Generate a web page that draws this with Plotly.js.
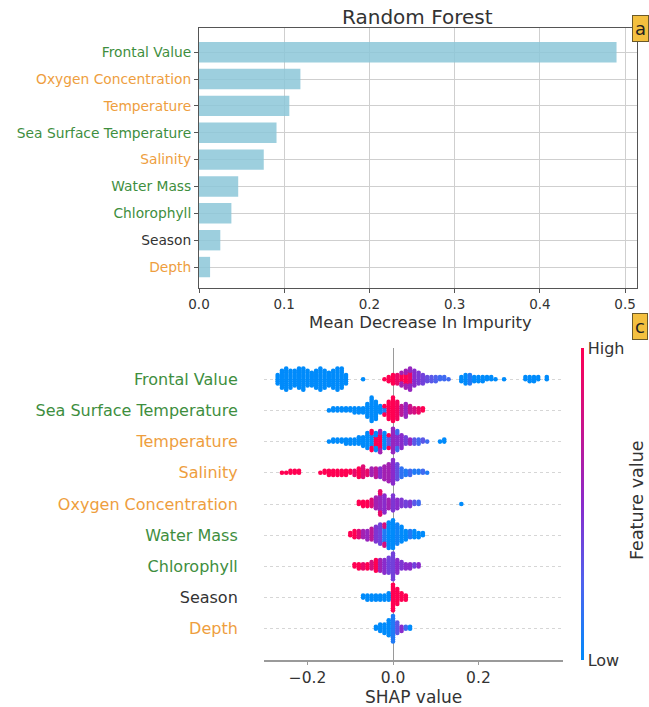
<!DOCTYPE html>
<html>
<head>
<meta charset="utf-8">
<script src="https://cdn.plot.ly/plotly-3.0.1.min.js"></script>
<style>html,body{margin:0;padding:0;background:#fff;}#chart{width:649px;height:707px;}</style>
</head>
<body>
<div id="chart"></div>
<script>
// ---------- Panel a: Random Forest impurity importance ----------
const rfFeatures = ["Frontal Value","Oxygen Concentration","Temperature","Sea Surface Temperature","Salinity","Water Mass","Chlorophyll","Season","Depth"];
const rfImportance = [0.490, 0.119, 0.106, 0.091, 0.076, 0.046, 0.038, 0.025, 0.013];
const rfTicks = [0.0, 0.1, 0.2, 0.3, 0.4, 0.5];

// label colour groups
const greenLabels = ["Frontal Value","Sea Surface Temperature","Water Mass","Chlorophyll"];
const orangeLabels = ["Oxygen Concentration","Temperature","Salinity","Depth"];

// ---------- Panel c: SHAP beeswarm (binned SHAP value, point count, feature value 0=low..1=high) ----------
const shapFeatures = ["Frontal Value","Sea Surface Temperature","Temperature","Salinity","Oxygen Concentration","Water Mass","Chlorophyll","Season","Depth"];
const shapTicks = [-0.2, 0.0, 0.2];

const shapFrontal = [[-0.27,5,0],[-0.26,9,0],[-0.25,11,0],[-0.24,9,0],[-0.23,8,0],[-0.22,10,0],[-0.21,11,0],[-0.20,8,0],[-0.19,7,0],[-0.18,9,0],[-0.17,11,0],[-0.16,9,0],[-0.15,7,0],[-0.14,9,0],[-0.13,11,0],[-0.12,10,0],[-0.11,5,0],
  [-0.07,1,0],
  [-0.02,1,1],[-0.01,3,1],[0.00,5,1],[0.01,5,0.9],[0.02,4,1],[0.02,3,0.6],[0.03,5,1],[0.03,4,0.6],[0.04,6,0.9],[0.04,5,0.55],[0.05,8,0.5],[0.06,6,0.45],[0.07,5,0.4],[0.08,3,0.35],[0.09,3,0.3],[0.10,3,0.25],[0.11,2,0.2],[0.12,2,0.2],[0.13,1,0.2],
  [0.16,3,0],[0.17,5,0],[0.18,5,0.1],[0.19,3,0],[0.20,3,0],[0.21,3,0],[0.22,2,0],[0.23,2,0],[0.24,1,0],[0.26,1,0],
  [0.31,2,0],[0.32,3,0],[0.33,3,0],[0.34,2,0],[0.36,2,0]];
const shapSST = [[-0.15,1,0],[-0.14,2,0],[-0.13,2,0],[-0.12,2,0],[-0.11,2,0],[-0.10,2,0],[-0.09,3,0],[-0.08,3,0],[-0.07,3,0],[-0.06,7,0],[-0.05,12,0],[-0.04,9,0],[-0.03,4,0],[-0.02,3,0.1],[-0.02,2,1],[-0.01,9,1],[0.00,12,1],[0.01,9,0.95],[0.02,5,0.7],[0.03,7,0.55],[0.04,4,0.75],[0.05,3,0.8],[0.06,3,0.9],[0.07,2,1]];
const shapTemperature = [[-0.15,1,0],[-0.14,2,0],[-0.13,2,0],[-0.12,2,0],[-0.11,3,0],[-0.10,3,0],[-0.09,3,0],[-0.08,4,0],[-0.07,5,0],[-0.06,8,0],[-0.05,6,0],[-0.05,4,1],[-0.04,5,1],[-0.04,4,0],[-0.03,7,1],[-0.03,4,0.6],[-0.02,8,0],[-0.01,5,0.3],[-0.01,2,1],[0.00,12,0.55],[0.01,6,0.5],[0.01,4,0.2],[0.02,7,0.5],[0.03,4,0.4],[0.04,3,0.55],[0.05,3,0.3],[0.06,3,0.2],[0.07,2,0.3],[0.08,1,0.2],[0.11,1,0],[0.12,2,0]];
const shapSalinity = [[-0.26,1,1],[-0.25,1,1],[-0.24,2,1],[-0.23,2,1],[-0.22,2,1],[-0.17,1,1],[-0.16,2,1],[-0.15,3,1],[-0.14,3,1],[-0.13,3,1],[-0.12,3,1],[-0.11,3,1],[-0.10,2,1],[-0.09,3,0.9],[-0.08,5,1],[-0.07,6,0.85],[-0.06,3,0.9],[-0.05,4,0.6],[-0.04,5,0.7],[-0.03,5,0.5],[-0.02,7,0.6],[-0.01,9,0.6],[0.00,12,0.5],[0.01,8,0.35],[0.02,5,0.15],[0.03,3,0.1],[0.04,3,0.2],[0.05,2,0.1],[0.06,2,0.1],[0.07,2,0.2],[0.08,1,0.1]];
const shapOxygen = [[-0.08,2,1],[-0.07,3,1],[-0.06,3,1],[-0.05,4,0.85],[-0.04,6,0.6],[-0.03,8,0.55],[-0.03,4,0.9],[-0.02,9,0.5],[-0.01,5,0.6],[0.00,8,0.45],[0.01,5,0.5],[0.02,4,0.45],[0.03,3,0.4],[0.04,3,0.45],[0.05,2,0.3],[0.06,2,0.2],[0.16,1,0]];
const shapWaterMass = [[-0.10,2,1],[-0.09,4,1],[-0.08,4,0.85],[-0.07,4,0.6],[-0.06,5,0.55],[-0.05,6,0.7],[-0.04,8,0.45],[-0.03,10,0.4],[-0.02,7,0.1],[-0.02,4,0.8],[-0.01,13,0],[0.00,14,0],[0.01,10,0.05],[0.02,8,0],[0.03,5,0],[0.04,4,0.1],[0.05,4,0],[0.06,3,0],[0.07,2,0]];
const shapChlorophyll = [[-0.09,2,1],[-0.08,3,1],[-0.07,3,0.9],[-0.06,3,1],[-0.05,4,0.8],[-0.04,6,1],[-0.03,6,0.6],[-0.02,7,0.5],[-0.01,8,0.4],[0.00,13,0.4],[0.01,7,0.5],[0.02,4,0.45],[0.03,3,0.5],[0.04,3,0.5],[0.05,2,0.4],[0.06,2,0.5]];
const shapSeason = [[-0.07,2,0],[-0.06,3,0],[-0.05,3,0],[-0.04,3,0],[-0.03,3,0],[-0.02,3,0],[-0.01,4,0],[0.00,13,1],[0.01,8,1],[0.02,4,1],[0.03,3,1]];
const shapDepth = [[-0.04,2,0],[-0.03,4,0],[-0.02,5,0],[-0.01,8,0],[0.00,13,0.1],[0.01,6,0.3],[0.02,3,0.5],[0.03,2,0.2],[0.04,2,0]];

const shapRows = [shapFrontal, shapSST, shapTemperature, shapSalinity, shapOxygen, shapWaterMass, shapChlorophyll, shapSeason, shapDepth];

// ---------- helpers ----------
const FONT = "DejaVu Sans";
const GREEN = "#3e8e3e", ORANGE = "#ee9e3e", DARK = "#333333";
function labelColor(f){ return greenLabels.includes(f) ? GREEN : (orangeLabels.includes(f) ? ORANGE : DARK); }
function colored(f){ return '<span style="color:' + labelColor(f) + '">' + f + '</span>'; }

const W = 649, H = 707;
const px = v => v / W, py = v => 1 - v / H;

// beeswarm stacking: points in a bin are stacked symmetrically around the row
const step = 0.068;
const sx = [], sy = [], sc = [];
shapRows.forEach((rows, i) => {
  const rowY = shapFeatures.length - 1 - i;
  const used = {};
  rows.forEach(([v, n, c]) => {
    const key = v.toFixed(3);
    const k0 = used[key] || 0;
    for (let j = 0; j < n; j++) {
      const idx = k0 + j;
      const off = idx === 0 ? 0 : (idx % 2 === 1 ? (idx + 1) / 2 : -idx / 2);
      sx.push(v); sy.push(rowY + off * step); sc.push(c);
    }
    used[key] = k0 + n;
  });
});

const redBlue = [[0,'#008bfb'],[0.25,'#4f62ee'],[0.5,'#8a2bcc'],[0.75,'#c9138c'],[1,'#ff0052']];

const traces = [
  {
    type: 'bar', orientation: 'h',
    x: rfImportance, y: rfFeatures,
    xaxis: 'x', yaxis: 'y',
    width: 0.76,
    marker: {color: 'rgba(140,199,216,0.85)', line: {width: 0}},
    hoverinfo: 'x+y'
  },
  {
    type: 'scatter', mode: 'markers',
    x: sx, y: sy, xaxis: 'x2', yaxis: 'y2',
    marker: {
      size: 4.6, color: sc, cmin: 0, cmax: 1, colorscale: redBlue, line: {width: 0},
      colorbar: {
        x: px(581), xanchor: 'left', y: py(504), yanchor: 'middle',
        len: 312 / H, lenmode: 'fraction', thickness: 3, outlinewidth: 0,
        tickvals: [0, 1], ticktext: ['Low', 'High'], ticks: '',
        tickfont: {family: FONT, size: 16, color: DARK}, xpad: 0, ypad: 0
      }
    },
    hoverinfo: 'x'
  }
];

const layout = {
  width: W, height: H,
  margin: {l: 0, r: 0, t: 0, b: 0},
  paper_bgcolor: '#ffffff', plot_bgcolor: '#ffffff',
  showlegend: false,
  font: {family: FONT, color: DARK},
  xaxis: {
    domain: [px(199), px(637)], anchor: 'y',
    range: [0, 0.514], tickvals: rfTicks, ticktext: rfTicks.map(t => t.toFixed(1)),
    showgrid: true, gridcolor: '#cfcfcf', gridwidth: 1, zeroline: false,
    showline: true, mirror: true, linecolor: '#555', linewidth: 1,
    ticks: 'outside', ticklen: 4, tickcolor: '#555',
    tickfont: {family: FONT, size: 13.5, color: DARK}
  },
  yaxis: {
    domain: [py(288), py(28)], anchor: 'x', type: 'category',
    range: [8.78, -0.9],
    tickvals: rfFeatures, ticktext: rfFeatures.map(colored),
    showgrid: true, gridcolor: '#cfcfcf', gridwidth: 1, zeroline: false,
    showline: true, mirror: true, linecolor: '#555', linewidth: 1,
    ticks: 'outside', ticklen: 4, tickcolor: '#555',
    tickfont: {family: FONT, size: 13.8}
  },
  xaxis2: {
    domain: [px(264), px(563)], anchor: 'y2',
    range: [-0.302, 0.398], tickvals: shapTicks, ticktext: ['\u22120.2', '0.0', '0.2'],
    showgrid: false, zeroline: true, zerolinecolor: '#9a9a9a', zerolinewidth: 1,
    showline: true, linecolor: '#9a9a9a', linewidth: 1.5,
    ticks: 'outside', ticklen: 3, tickcolor: '#9a9a9a',
    tickfont: {family: FONT, size: 15.5, color: DARK}
  },
  yaxis2: {
    domain: [py(660), py(348)], anchor: 'x2',
    range: [-1, 9],
    tickvals: shapFeatures.map((f, i) => shapFeatures.length - 1 - i),
    ticktext: shapFeatures.map(colored),
    showgrid: true, gridcolor: '#cccccc', gridwidth: 0.8, griddash: 'dot',
    zeroline: false, showline: false,
    ticks: 'outside', ticklen: 22, tickcolor: 'rgba(0,0,0,0)',
    tickfont: {family: FONT, size: 16}
  },
  annotations: [
    {text: 'Random Forest', xref: 'paper', yref: 'paper', x: px(418), y: py(17), xanchor: 'center', yanchor: 'middle', showarrow: false, font: {family: FONT, size: 20, color: DARK}},
    {text: 'Mean Decrease In Impurity', xref: 'paper', yref: 'paper', x: px(420), y: py(322), xanchor: 'center', yanchor: 'middle', showarrow: false, font: {family: FONT, size: 16.5, color: DARK}},
    {text: 'SHAP value', xref: 'paper', yref: 'paper', x: px(413), y: py(697), xanchor: 'center', yanchor: 'middle', showarrow: false, font: {family: FONT, size: 17, color: DARK}},
    {text: 'Feature value', xref: 'paper', yref: 'paper', x: px(637), y: py(500), xanchor: 'center', yanchor: 'middle', textangle: -90, showarrow: false, font: {family: FONT, size: 17.5, color: DARK}},
    {text: 'a', xref: 'paper', yref: 'paper', x: px(632), y: py(15), xanchor: 'left', yanchor: 'top', showarrow: false, bgcolor: '#f4c03f', bordercolor: '#6b5a2a', borderwidth: 1, borderpad: 2, font: {family: FONT, size: 18, color: '#222'}},
    {text: 'c', xref: 'paper', yref: 'paper', x: px(632), y: py(313), xanchor: 'left', yanchor: 'top', showarrow: false, bgcolor: '#f4c03f', bordercolor: '#6b5a2a', borderwidth: 1, borderpad: 2, font: {family: FONT, size: 18, color: '#222'}}
  ]
};

Plotly.newPlot('chart', traces, layout, {displayModeBar: false, staticPlot: true});
</script>
</body>
</html>
